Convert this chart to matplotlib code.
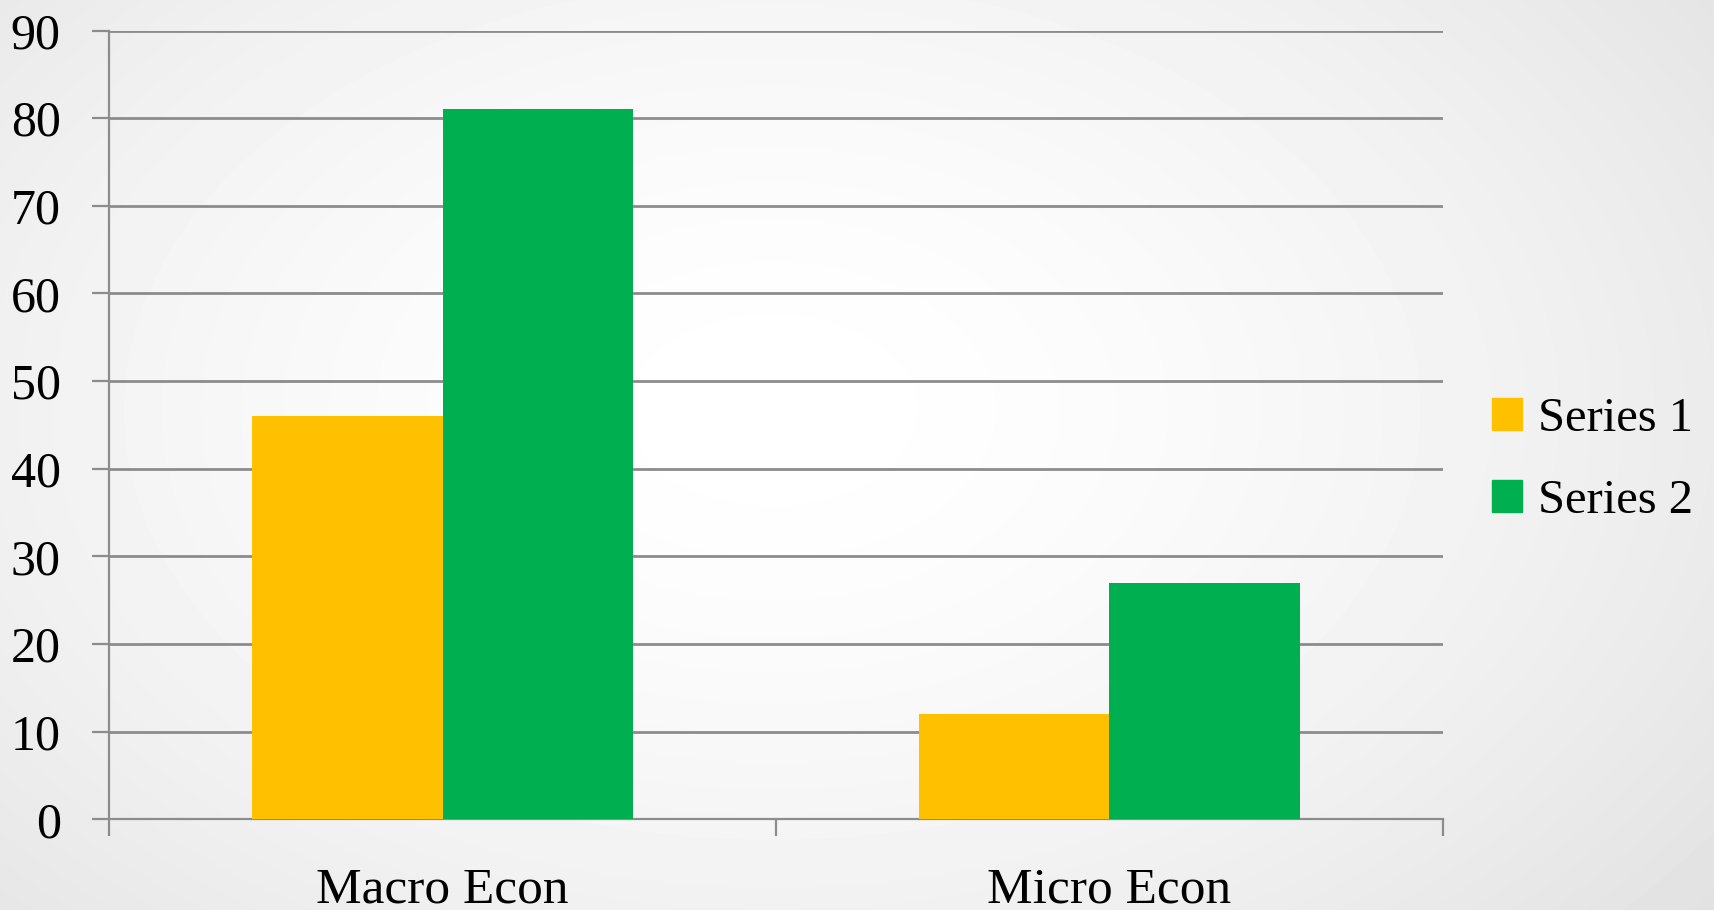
import numpy as np
import matplotlib
matplotlib.use("Agg")
import matplotlib.pyplot as plt
from matplotlib.patches import Patch

plt.rcParams['font.family'] = ['Liberation Serif', 'DejaVu Serif']

categories = ["Macro Econ", "Micro Econ"]
series_names = ["Series 1", "Series 2"]
series1 = [46, 12]
series2 = [81, 27]
colors = ["#FFC000", "#00B050"]
yticks = [0, 10, 20, 30, 40, 50, 60, 70, 80, 90]

W, H = 1715, 910
fig = plt.figure(figsize=(W / 100, H / 100), dpi=100)

# soft radial background
bg = fig.add_axes([0, 0, 1, 1], zorder=-10)
yy, xx = np.mgrid[0:H, 0:W]
r = np.sqrt(((xx - W * 0.45) / (W * 0.6)) ** 2 + ((yy - H * 0.45) / (H * 0.75)) ** 2)
shade = 1.0 - 0.09 * np.clip(r, 0, 1.3) ** 1.6
bg.imshow(shade, cmap="gray", vmin=0, vmax=1, aspect="auto", interpolation="bilinear")
bg.axis("off")

left, right, top, bottom = 109.4, 1442.7, 30.6, 819.3
ax = fig.add_axes([left / W, 1 - bottom / H, (right - left) / W, (bottom - top) / H])
ax.patch.set_alpha(0)

x = np.arange(len(categories))
w = 1 / 3.5
ax.bar(x - w / 2, series1, width=w, color=colors[0], zorder=3)
ax.bar(x + w / 2, series2, width=w, color=colors[1], zorder=3)

ax.set_xlim(-0.5, len(categories) - 0.5)
ax.set_ylim(0, 90)
ax.set_yticks(yticks)
ax.yaxis.grid(True, color="#8c8c8c", linewidth=2, zorder=1)
ax.set_axisbelow(True)

gray = "#8c8c8c"
for s in ["top", "right"]:
    ax.spines[s].set_visible(False)
for s in ["left", "bottom"]:
    ax.spines[s].set_color(gray)
    ax.spines[s].set_linewidth(1.6)

ax.tick_params(axis="y", length=12, width=1.6, color=gray, pad=23, labelsize=36)
ax.set_xticks(x)
ax.set_xticklabels(categories)
ax.set_xticks(np.arange(-0.5, len(categories)), minor=True)
ax.tick_params(axis="x", which="major", length=0, pad=34, labelsize=37)
ax.tick_params(axis="x", which="minor", length=12, width=1.6, color=gray)

handles = [Patch(color=c) for c in colors]
fig.legend(handles, series_names, loc="center left",
           bbox_to_anchor=(1491.7 / W, 1 - 460 / H), frameon=False,
           fontsize=35, handlelength=0.62, handleheight=0.62,
           handletextpad=0.34, labelspacing=0.78, borderpad=0, borderaxespad=0)

fig.savefig("out.png", dpi=100)
